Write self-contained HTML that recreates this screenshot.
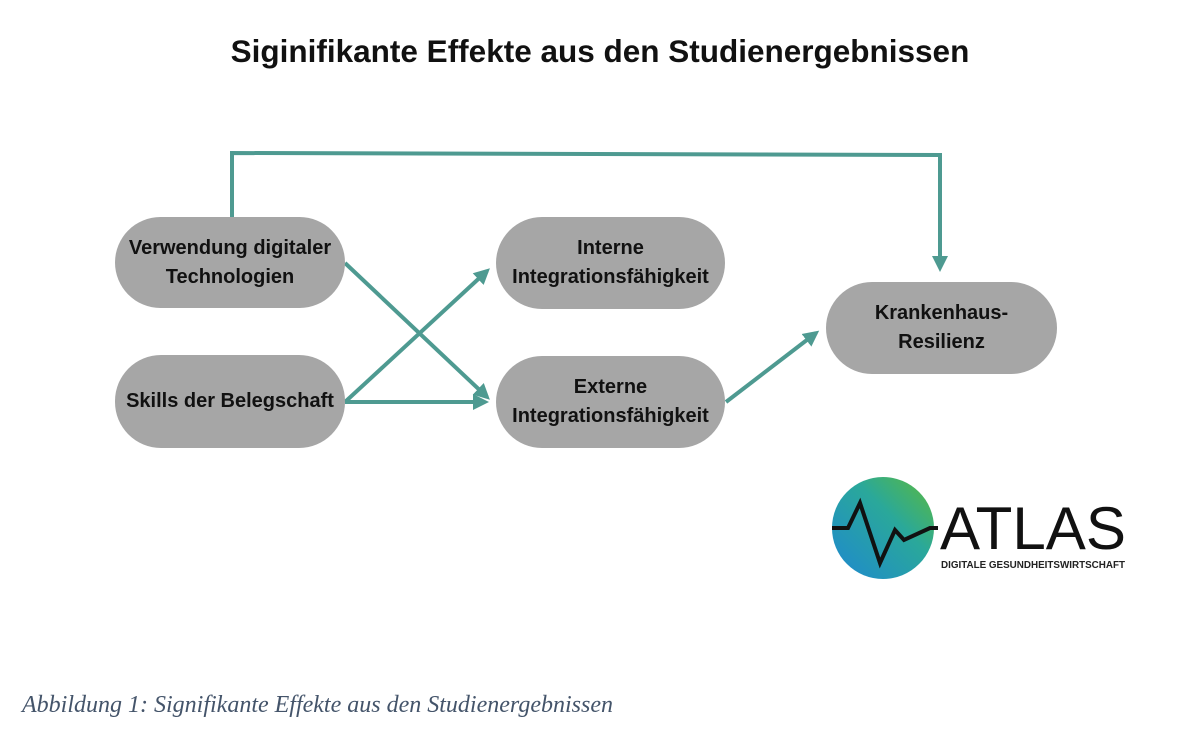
<!DOCTYPE html>
<html><head><meta charset="utf-8"><style>
body{margin:0;width:1195px;height:745px;background:#fff;position:relative;overflow:hidden;font-family:"Liberation Sans",sans-serif}
.t{position:absolute;left:0;width:1200px;top:33px;text-align:center;font-weight:bold;font-size:31.5px;color:#111}
.b{position:absolute;background:#a6a6a6;border-radius:46px;display:flex;align-items:center;justify-content:center;text-align:center;font-weight:bold;font-size:20px;line-height:29px;color:#111;white-space:nowrap}
.cap{position:absolute;left:22px;top:692px;font-family:"Liberation Serif",serif;font-style:italic;font-size:24px;color:#44546a}
</style></head><body>
<div class="t">Siginifikante Effekte aus den Studienergebnissen</div>
<svg width="1195" height="745" style="position:absolute;left:0;top:0">
<defs><marker id="h" markerWidth="18" markerHeight="18" refX="12" refY="9" orient="auto" markerUnits="userSpaceOnUse"><path d="M0,1 L16,9 L0,17 Z" fill="#4e9a91"/></marker></defs>
<g stroke="#4e9a91" stroke-width="4" fill="none">
<polyline points="232,217 232,153 940,155 940,268" marker-end="url(#h)"/>
<line x1="345" y1="263" x2="487" y2="397" marker-end="url(#h)"/>
<line x1="345" y1="402" x2="487" y2="271" marker-end="url(#h)"/>
<line x1="345" y1="402" x2="485" y2="402" marker-end="url(#h)"/>
<line x1="726" y1="402" x2="816" y2="333" marker-end="url(#h)"/>
</g></svg>
<div class="b" style="left:115px;top:217px;width:230px;height:91px">Verwendung digitaler<br>Technologien</div>
<div class="b" style="left:115px;top:355px;width:230px;height:93px">Skills der Belegschaft</div>
<div class="b" style="left:496px;top:217px;width:229px;height:92px">Interne<br>Integrationsfähigkeit</div>
<div class="b" style="left:496px;top:356px;width:229px;height:92px">Externe<br>Integrationsfähigkeit</div>
<div class="b" style="left:826px;top:282px;width:231px;height:92px">Krankenhaus-<br>Resilienz</div>
<svg width="310" height="110" style="position:absolute;left:830px;top:475px">
<defs><linearGradient id="g" x1="0" y1="1" x2="1" y2="0"><stop offset="0" stop-color="#1e88d0"/><stop offset="0.6" stop-color="#2aa89a"/><stop offset="1" stop-color="#5cba3c"/></linearGradient></defs>
<circle cx="53" cy="53" r="51" fill="url(#g)"/>
<polyline points="2,53 18,53 30,28 50,88 65,55 74,65 100,53 108,53" fill="none" stroke="#111" stroke-width="4"/>
<text x="110" y="74" font-family="Liberation Sans,sans-serif" font-size="60" fill="#111" textLength="186" lengthAdjust="spacingAndGlyphs">ATLAS</text>
<text x="111" y="93" font-family="Liberation Sans,sans-serif" font-weight="bold" font-size="10.5" fill="#222" textLength="184" lengthAdjust="spacingAndGlyphs">DIGITALE GESUNDHEITSWIRTSCHAFT</text>
</svg>
<div class="cap">Abbildung 1: Signifikante Effekte aus den Studienergebnissen</div>
</body></html>
